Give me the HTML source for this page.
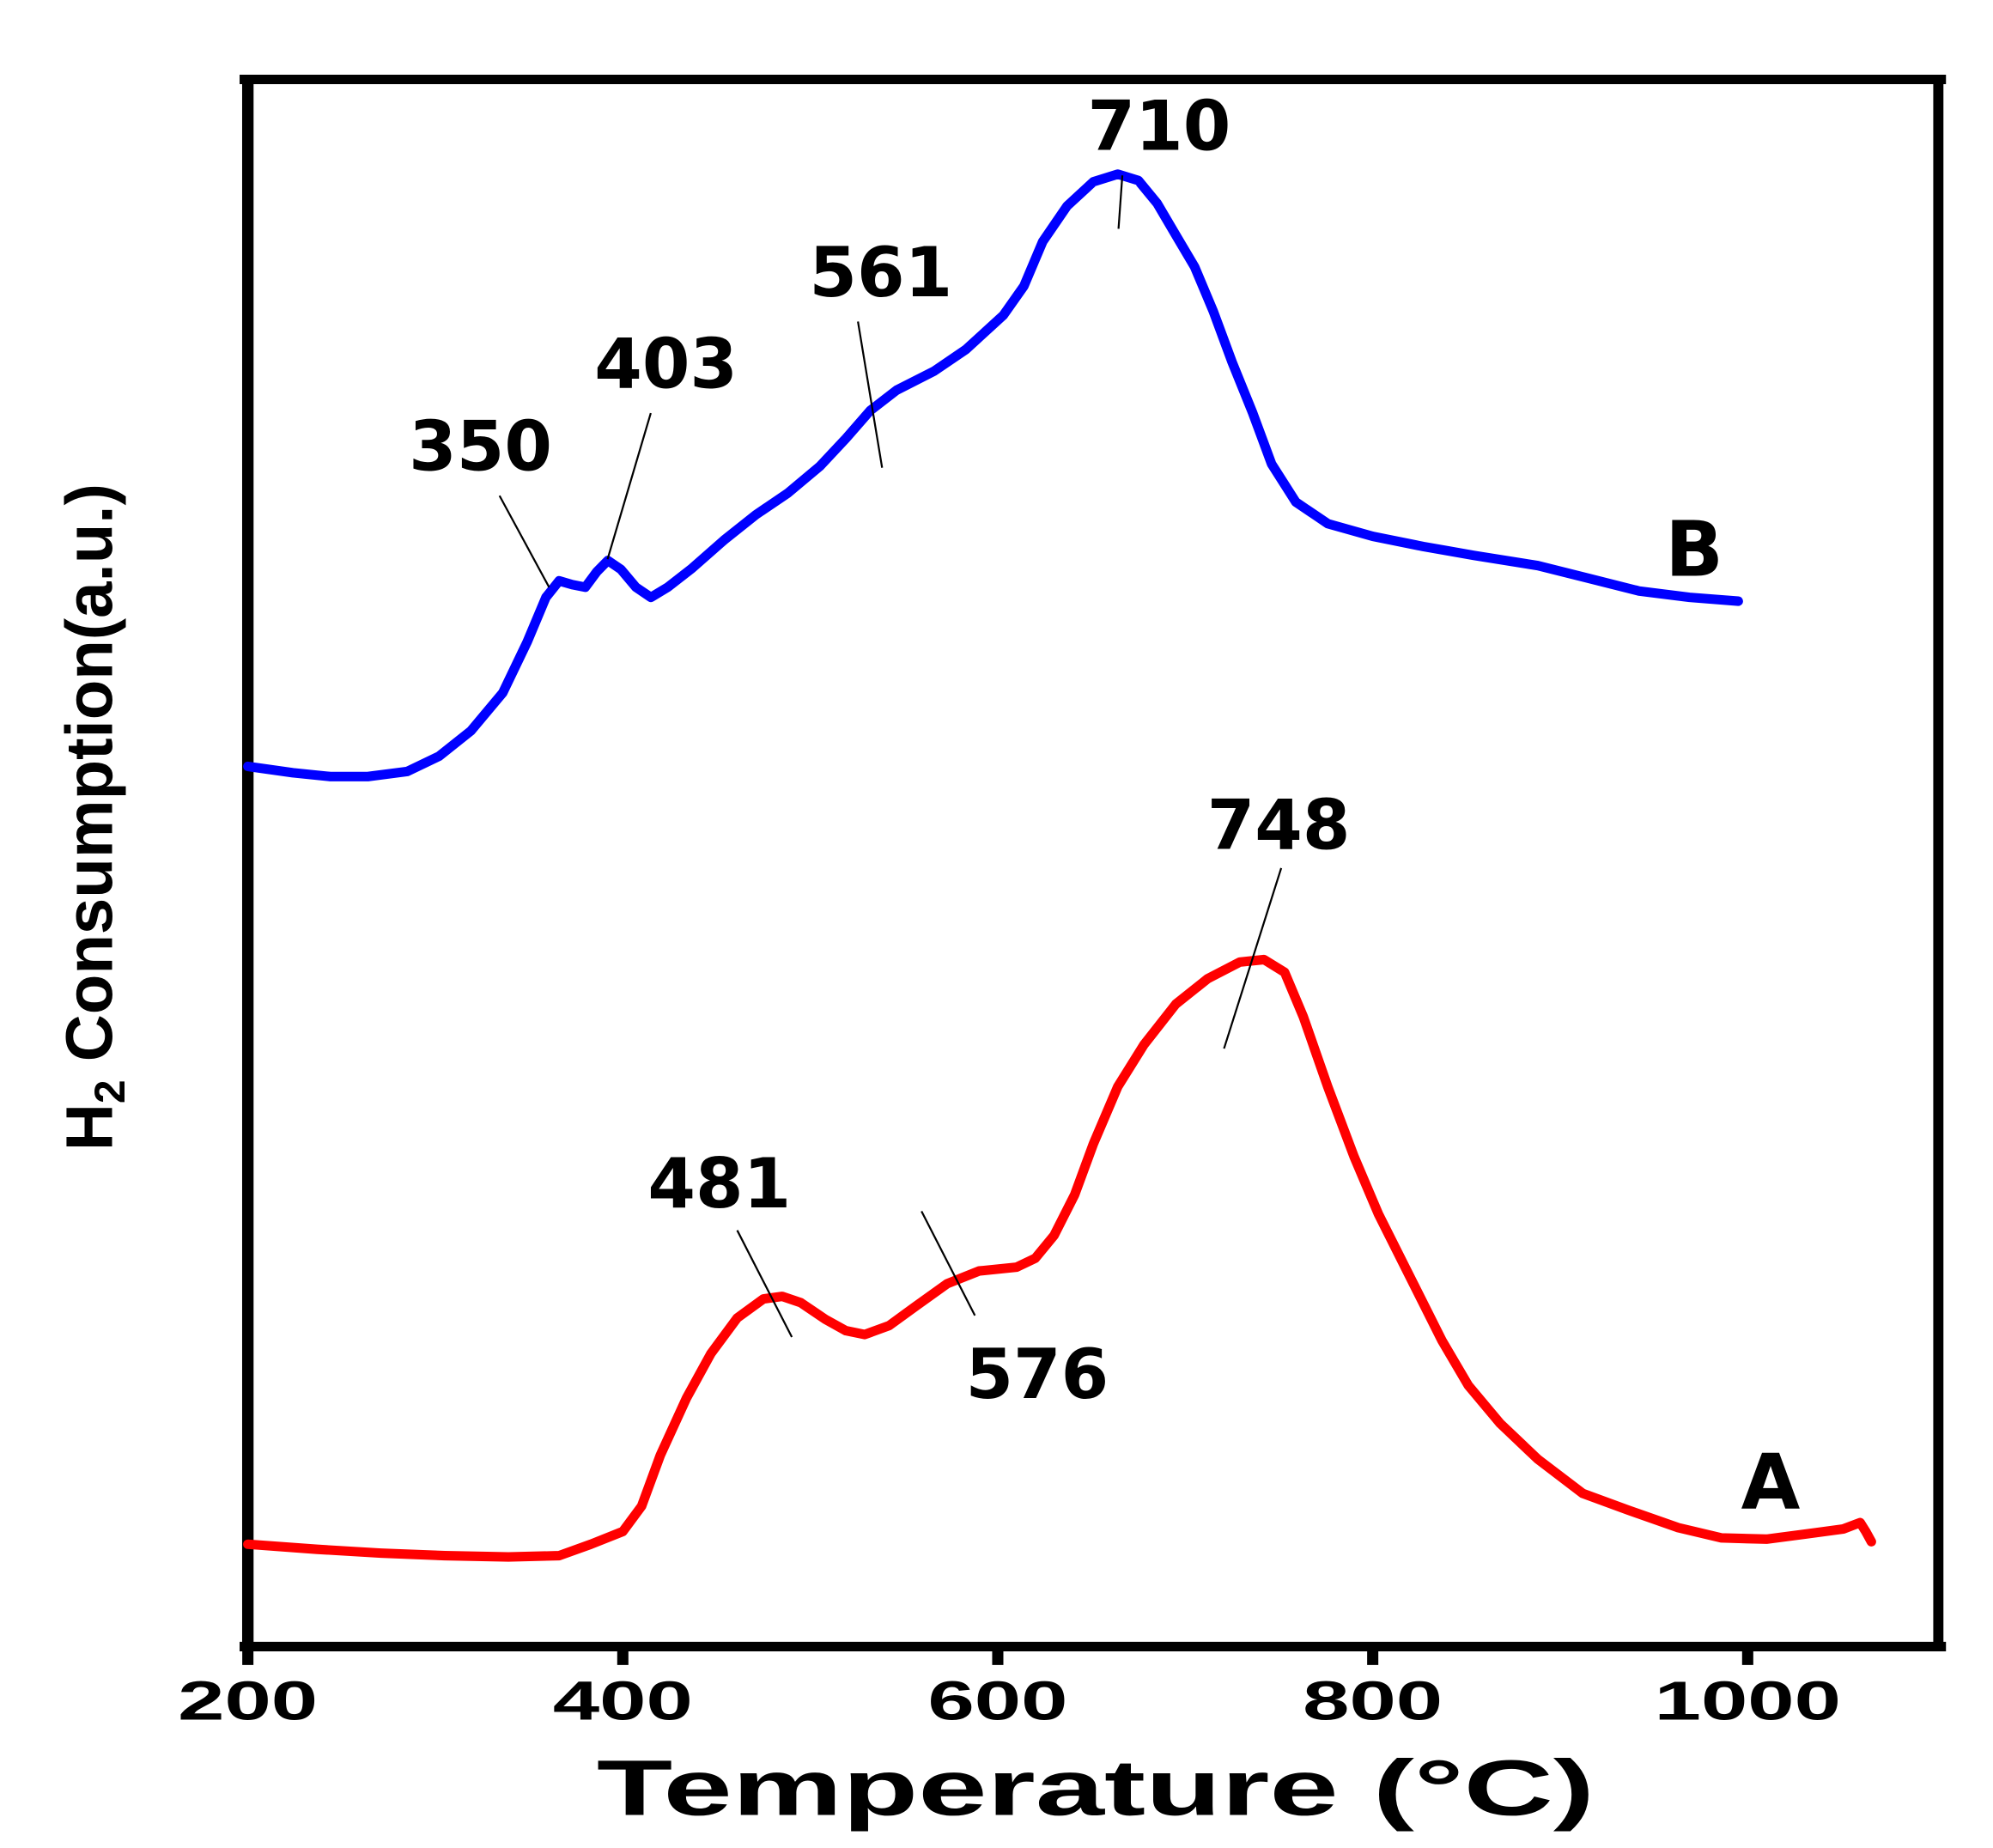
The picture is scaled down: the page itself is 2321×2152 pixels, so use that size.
<!DOCTYPE html>
<html><head><meta charset="utf-8"><style>html,body{margin:0;padding:0;background:#fff}svg{display:block}</style></head>
<body>
<svg id="chart" width="2321" height="2152" viewBox="0 0 1568 1454" preserveAspectRatio="none" xmlns="http://www.w3.org/2000/svg">
<rect x="0" y="0" width="1568" height="1454" fill="#fff"/>
<g id="frame">
<line x1="195" y1="59" x2="195" y2="1299" stroke="#000" stroke-width="9"/>
<line x1="1525" y1="59" x2="1525" y2="1299" stroke="#000" stroke-width="8"/>
<line x1="188.5" y1="62.5" x2="1531" y2="62.5" stroke="#000" stroke-width="7.5"/>
<line x1="188.5" y1="1295.5" x2="1531" y2="1295.5" stroke="#000" stroke-width="7.5"/>
</g>
<g id="ticks"></g>
<g id="series"></g>
<g id="annotations" font-family="'DejaVu Sans', sans-serif" font-weight="bold" font-size="54" fill="#000" text-anchor="middle"></g>
<text x="862" y="1428" font-family="'Liberation Sans', sans-serif" font-weight="bold" font-size="62" text-anchor="middle" textLength="785" lengthAdjust="spacingAndGlyphs">Temperature (°C)</text>
<text transform="translate(88,643) rotate(-90)" font-family="'Liberation Sans', sans-serif" font-weight="bold" font-size="52" text-anchor="middle" textLength="525" lengthAdjust="spacingAndGlyphs">H<tspan font-size="34" dy="10">2</tspan><tspan dy="-10"> Consumption(a.u.)</tspan></text>
</svg>
<script>
const xTicks = [200, 400, 600, 800, 1000];
const tempB = [200,224,244,264,285,302,319,336,349,359,366,373,380,386,392,399,407,415,424,437,454,471,488,505,519,532,546,566,583,603,614,624,637,651,664,675,685,695,705,715,725,736,746,759,776,800,827,854,888,915,942,969,995];
const valB = [692,687,684,684,688,700,720,750,790,825,838,835,833,845,854,847,833,825,833,848,870,890,907,928,950,972,988,1003,1020,1047,1070,1105,1133,1152,1158,1153,1135,1110,1085,1050,1010,970,930,900,883,873,865,858,850,840,830,825,822];
const tempA = [200,237,271,305,339,366,383,400,410,420,434,447,461,475,485,495,508,519,529,542,556,573,590,610,620,630,641,651,664,678,695,712,729,742,753,763,776,790,803,820,837,851,868,888,912,936,963,986,1010,1031,1051,1060,1063,1066];
const valA = [80,76,73,71,70,71,80,90,110,150,195,230,258,273,275,270,257,248,245,252,267,285,295,298,305,323,355,395,440,473,505,525,538,540,530,495,440,385,340,290,240,205,175,147,120,107,93,85,84,88,92,97,90,82];
const peakLabels = ["710","561","403","350","748","481","576"];
const x = t => 195 + (t - 200) * 295 / 200;
const y = v => 1295 - v;
const NS = "http://www.w3.org/2000/svg";
const mk = (tag, attrs, parent) => { const e = document.createElementNS(NS, tag); for (const k in attrs) e.setAttribute(k, attrs[k]); parent.appendChild(e); return e; };

const tg = document.getElementById('ticks');
xTicks.forEach(t => {
  const l = mk('line', {x1: x(t), y1: 1299, x2: x(t), y2: 1310, stroke: '#000', 'stroke-width': 8.8}, tg);
  
  
  const tx = mk('text', {x: x(t), y: 1353, 'font-family': "'Liberation Sans', sans-serif", 'font-weight': 'bold', 'font-size': 43, 'text-anchor': 'middle', textLength: (String(t).length * 36.7), lengthAdjust: 'spacingAndGlyphs'}, tg);
  tx.textContent = t;
  
  
});

const sg = document.getElementById('series');
function pathOf(ts, vs) { return ts.map((t, i) => (i ? 'L' : 'M') + x(t).toFixed(1) + ' ' + y(vs[i]).toFixed(1)).join(' '); }
const pB = mk('path', {d: pathOf(tempB, valB), fill: 'none', stroke: '#0000ff', 'stroke-width': 7.5, 'stroke-linejoin': 'round', 'stroke-linecap': 'round'}, sg);


const pA = mk('path', {d: pathOf(tempA, valA), fill: 'none', stroke: '#ff0000', 'stroke-width': 7.5, 'stroke-linejoin': 'round', 'stroke-linecap': 'round'}, sg);



const ag = document.getElementById('annotations');
const ann = [
  [912,118,883,138,880,180],
  [693,233,675,253,694,368],
  [524,305,512,325,478,440],
  [378,370,393,390,432,462],
  [1006,668,1008,683,963,825],
  [566,950,580,968,623,1052],
  [816,1100,725,953,767,1035]
];
ann.forEach((a, i) => {
  const t = mk('text', {x: a[0], y: a[1]}, ag);
  t.textContent = peakLabels[i];
  
  
  const l = mk('line', {x1: a[2], y1: a[3], x2: a[4], y2: a[5], stroke: '#000', 'stroke-width': 1.5}, ag);
  
  
});
const tBl = mk('text', {x: 1333, y: 453, 'font-size': 60}, ag);
tBl.textContent = 'B';


const tAl = mk('text', {x: 1393, y: 1187, 'font-size': 60}, ag);
tAl.textContent = 'A';


</script>
</body></html>
